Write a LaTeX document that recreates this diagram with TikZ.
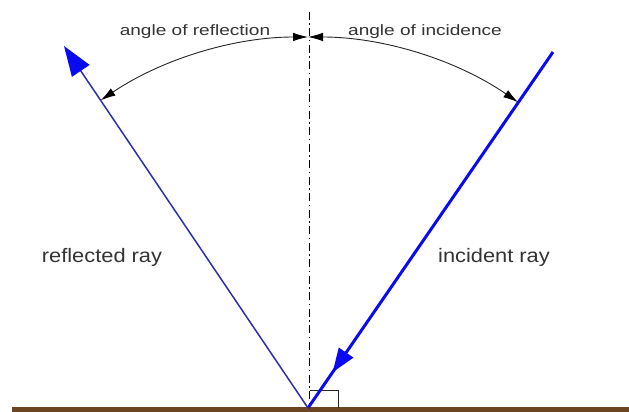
\documentclass[tikz,border=0pt]{standalone}
\usepackage{fontspec}
\newfontfamily\lblfont[FakeStretch=1.27]{Liberation Sans}
\newfontfamily\raylblfont[FakeStretch=1.12]{Liberation Sans}
\usetikzlibrary{arrows.meta,calc,decorations.markings}
\definecolor{incblue}{HTML}{0A0AF0}
\definecolor{reflblue}{HTML}{2E2EA8}
\definecolor{groundbrown}{HTML}{6B4522}
\definecolor{lblgray}{HTML}{333333}
\tikzset{
  incray/.style={draw=incblue, line width=3pt,
    postaction={decorate}, decoration={markings,
      mark=at position 0.9 with {\arrow{Triangle[length=24pt,width=17pt]}}}},
  reflray/.style={draw=reflblue, line width=1.5pt,
    -{Triangle[length=30pt,width=21pt,color=incblue]}},
  normalline/.style={black, line width=1pt,
    dash pattern=on 8pt off 3.5pt on 1.5pt off 3.5pt},
  anglearc/.style={black!85, line width=0.9pt,
    {Latex[length=15pt,width=8.5pt,color=black]}-{Latex[length=15pt,width=8.5pt,color=black]}},
  rightmark/.style={black!85, line width=0.9pt},
  lbl/.style={text=lblgray, font=\lblfont\fontsize{15}{18}\selectfont,
    inner sep=0pt, anchor=base},
  raylbl/.style={text=lblgray, font=\raylblfont\fontsize{19.5}{22}\selectfont,
    inner sep=0pt, anchor=base},
}

\begin{document}
\begin{tikzpicture}[x=1pt, y=1pt]
\useasboundingbox (0,0) rectangle (629,412);

% ---- ground and key points ----
\fill[groundbrown] (12,0) rectangle (629,4.5);
\coordinate (c-hit)   at (308,4);
\coordinate (c-inc)   at (553,360);
\coordinate (c-refl)  at (64,366);
\coordinate (c-ntop)  at (309,400);
\coordinate (c-nbot)  at (309,8);

% ---- normal and right angle ----
\draw[normalline] (c-ntop) -- (c-nbot);
\draw[rightmark] (310,22) -- (338,22) -- (338,4);

% ---- rays ----
\draw[incray] (c-inc) -- (c-hit);
\draw[reflray] (c-hit) -- (c-refl);

% ---- angles ----
\draw[anglearc] ($(c-hit)+(90:371)$) arc[start angle=90, end angle=123.98, radius=371];
\draw[anglearc] ($(c-hit)+(90:371)$) arc[start angle=90, end angle=55.5, radius=371];

% ---- labels ----
\node[lbl] (n-arefl) at (195,376) {angle of reflection};
\node[lbl] (n-ainc)  at (425,376) {angle of incidence};
\node[raylbl] (n-refl) at (102,149) {reflected ray};
\node[raylbl] (n-inc)  at (494,149) {incident ray};

\end{tikzpicture}
\end{document}
